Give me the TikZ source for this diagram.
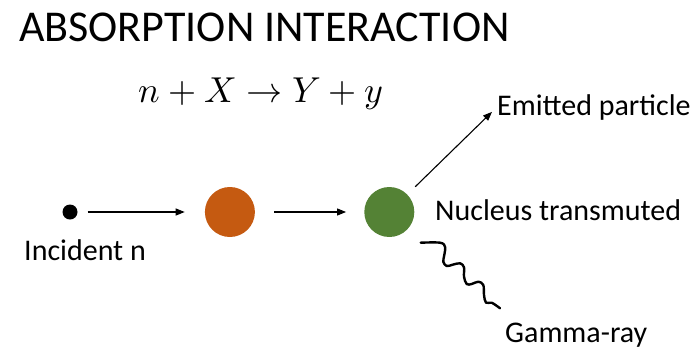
\documentclass[tikz,border=0pt]{standalone}
\usepackage{fontspec}
\usepackage{unicode-math}
\setmainfont{Carlito}
\setmathfont{Latin Modern Math}
\usepackage{xcolor}
\usepackage{tikz}
\usetikzlibrary{positioning, arrows.meta}

\definecolor{nucorange}{RGB}{197,90,17}
\definecolor{nucgreen}{RGB}{84,130,53}

\begin{document}
\begin{tikzpicture}[
      x=1pt, y=-1pt,
      ball/.style={circle, inner sep=0pt, minimum size=50pt},
      lbl/.style={font=\fontsize{30}{36}\selectfont, inner sep=0pt,
        anchor=base west},
      arr/.style={-{Triangle[length=9pt,width=7pt]}, line width=1.1pt},
      wave/.style={line width=2.4pt, line cap=round, line join=round}
    ]
    \useasboundingbox (0,0) rectangle (700,351);
    \node[font=\fontsize{44}{52}\selectfont, inner sep=0pt,
      anchor=base west] (title) at (19,41) {ABSORPTION INTERACTION};
    \node[font=\fontsize{36}{42}\selectfont, inner sep=0pt, anchor=base]
      (eq) at (261,102) {$n + X \rightarrow Y + y$};

    \node[circle, fill=black, inner sep=0pt, minimum size=15pt] (inc) at (70,212) {};
    \node[ball, fill=nucorange, right=127pt of inc] (abs) {};
    \node[ball, fill=nucgreen, right=109pt of abs] (trans) {};

    \node[lbl] (incl) at (24,260) {Incident n};
    \node[lbl] (emit) at (497,115) {Emitted particle};
    \node[lbl] (nucl) at (435,220) {Nucleus transmuted};
    \node[lbl] (gam)  at (505,342) {Gamma-ray};

    \draw[arr, shorten <=10pt, shorten >=20pt] (inc) -- (abs);
    \draw[arr, shorten <=19pt, shorten >=18pt] (abs) -- (trans);
    \draw[arr, shorten <=11pt, shorten >=7pt] (trans) -- (emit.west);

    % gamma ray squiggle
    \draw[wave] plot[smooth, tension=0.6] coordinates {
      (420.7,242.7) (440,242.7) (445,246.7) (444.3,255) (443.3,261.7)
      (446.7,266) (452.7,264.7) (460,263.3) (464,267.3) (464,276.7)
      (466.7,284) (471.7,284) (478.3,281.7) (483.3,285) (484,295)
      (486,302.7) (491.7,302.7) (500,308.3)};
  \end{tikzpicture}
\end{document}
